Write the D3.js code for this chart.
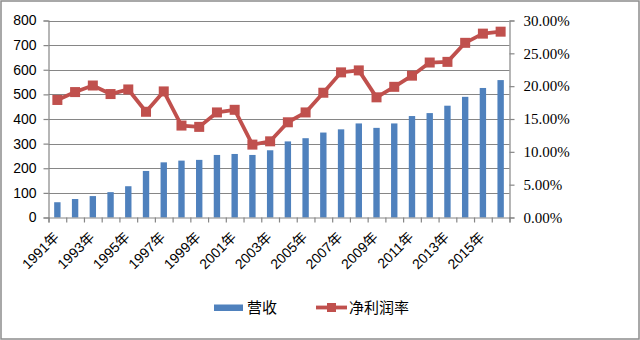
<!DOCTYPE html>
<html>
<head>
<meta charset="utf-8">
<script src="https://cdn.jsdelivr.net/npm/d3@7"></script>
<style>
  html, body { margin: 0; padding: 0; background: #fff; }
  svg { display: block; }
</style>
</head>
<body>
<svg id="chart" width="640" height="340"></svg>
<script>
// Revenue (营收) and net profit margin (净利润率), 1991–2016
const years = d3.range(1991, 2017).map(y => y + "年");
const revenue = [62, 75, 87, 103, 127, 189, 224, 231, 234, 254, 258, 254, 273,
                 309, 322, 345, 358, 382, 364, 382, 412, 424, 454, 490, 526, 558];
const margin = [17.9, 19.1, 20.1, 18.8, 19.5, 16.1, 19.2, 14.0, 13.8, 16.0, 16.4, 11.1, 11.6,
                14.5, 16.0, 19.0, 22.1, 22.4, 18.3, 19.9, 21.6, 23.6, 23.7, 26.6, 28.0, 28.3];
const leftTicks = d3.range(0, 801, 100);
const rightTicks = [0, 5, 10, 15, 20, 25, 30];
const labelYears = years.filter((d, i) => i % 2 === 0 && i < 25);

const svg = d3.select("#chart");
const W = 640, H = 340;
const plot = { left: 48.5, right: 509.5, top: 20.5, bottom: 217.5 };

const barColor = "#4F81BD", lineColor = "#C0504D", gridColor = "#868686";
const sans = "'Liberation Sans', Arial, sans-serif";
const serif = "'Liberation Serif', 'Times New Roman', serif";
const cjk = "'Liberation Sans', 'Noto Sans CJK SC', sans-serif";

svg.append("rect").attr("x", 1).attr("y", 1).attr("width", W - 2).attr("height", H - 2)
  .attr("fill", "#fff").attr("stroke", "#8c8c8c").attr("stroke-width", 1.5);

const x = d3.scaleBand().domain(years).range([plot.left, plot.right])
  .paddingInner(0.64).paddingOuter(0.32);
const xEdges = d3.scaleLinear().domain([0, years.length]).range([plot.left, plot.right]);
const yL = d3.scaleLinear().domain([0, 800]).range([plot.bottom, plot.top]);
const yR = d3.scaleLinear().domain([0, 30]).range([plot.bottom, plot.top]);

// horizontal gridlines
svg.append("g").selectAll("line").data(leftTicks.slice(1)).join("line")
  .attr("x1", plot.left).attr("x2", plot.right)
  .attr("y1", d => Math.round(yL(d)) + 0.5).attr("y2", d => Math.round(yL(d)) + 0.5)
  .attr("stroke", gridColor).attr("stroke-width", 1.2);

// bars
svg.append("g").selectAll("rect").data(revenue).join("rect")
  .attr("x", (d, i) => x(years[i]))
  .attr("width", x.bandwidth())
  .attr("y", d => yL(d))
  .attr("height", d => yL(0) - yL(d))
  .attr("fill", barColor);

// left axis
const gL = svg.append("g").attr("transform", `translate(${plot.left},0)`)
  .call(d3.axisLeft(yL).tickValues(leftTicks).tickSize(5).tickPadding(7));
gL.selectAll("text").attr("font-family", sans).attr("font-size", 14).attr("fill", "#000");

// right axis
const gR = svg.append("g").attr("transform", `translate(${plot.right},0)`)
  .call(d3.axisRight(yR).tickValues(rightTicks).tickSize(5).tickPadding(9)
    .tickFormat(d => d.toFixed(2) + "%"));
gR.selectAll("text").attr("font-family", serif).attr("font-size", 15).attr("fill", "#000");

// bottom axis: ticks between categories
const gB = svg.append("g").attr("transform", `translate(0,${plot.bottom})`)
  .call(d3.axisBottom(xEdges).tickValues(d3.range(0, years.length + 1)).tickSize(5).tickFormat(""));

[gL, gR, gB].forEach(g => {
  g.selectAll("path.domain").attr("stroke", gridColor).attr("stroke-width", 1.2);
  g.selectAll(".tick line").attr("stroke", gridColor).attr("stroke-width", 1.2);
});

// rotated year labels
svg.append("g").selectAll("text").data(labelYears).join("text")
  .attr("transform", d => `translate(${x(d) + x.bandwidth() / 2 - 1},${plot.bottom + 17}) rotate(-45)`)
  .attr("text-anchor", "end").attr("dy", "0.35em")
  .attr("font-family", cjk).attr("font-size", 14).attr("fill", "#000")
  .text(d => d);

// margin line with square markers
const cx = i => x(years[i]) + x.bandwidth() / 2;
const line = d3.line().x((d, i) => cx(i)).y(d => yR(d));
svg.append("path").datum(margin).attr("d", line)
  .attr("fill", "none").attr("stroke", lineColor).attr("stroke-width", 3.8)
  .attr("stroke-linejoin", "round");
const mk = 10;
svg.append("g").selectAll("rect").data(margin).join("rect")
  .attr("x", (d, i) => cx(i) - mk / 2).attr("y", d => yR(d) - mk / 2)
  .attr("width", mk).attr("height", mk).attr("fill", lineColor);

// legend
const lg = svg.append("g");
lg.append("rect").attr("x", 214).attr("y", 304.5).attr("width", 29).attr("height", 6.5).attr("fill", barColor);
lg.append("text").attr("x", 247).attr("y", 313).attr("font-family", cjk)
  .attr("font-size", 15).attr("fill", "#000").text("营收");
lg.append("line").attr("x1", 316).attr("x2", 347).attr("y1", 307.5).attr("y2", 307.5)
  .attr("stroke", lineColor).attr("stroke-width", 3.8);
lg.append("rect").attr("x", 327).attr("y", 303).attr("width", 9).attr("height", 9).attr("fill", lineColor);
lg.append("text").attr("x", 349).attr("y", 313).attr("font-family", cjk)
  .attr("font-size", 15).attr("fill", "#000").text("净利润率");
</script>
</body>
</html>
